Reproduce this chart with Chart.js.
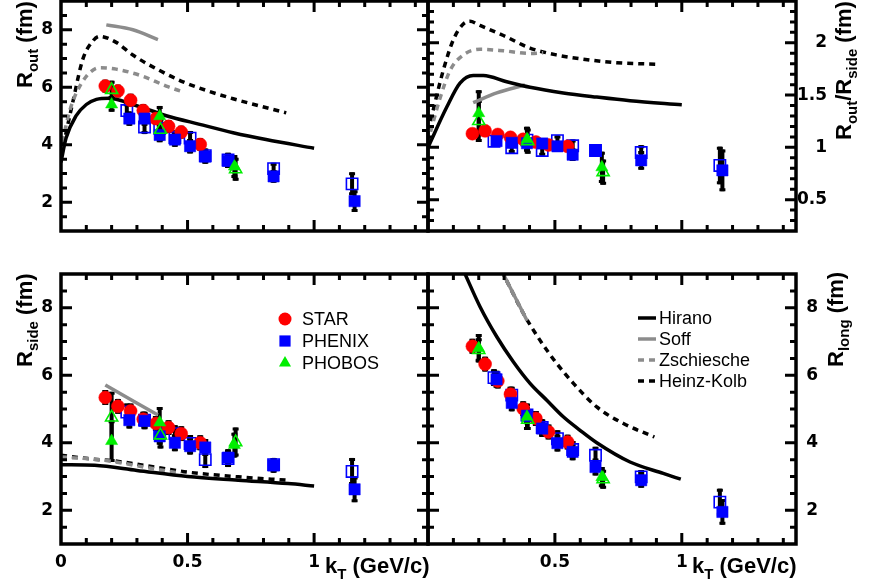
<!DOCTYPE html>
<html>
<head>
<meta charset="utf-8">
<script src="https://cdn.jsdelivr.net/npm/chart.js@4.4.0/dist/chart.umd.min.js"></script>
<style>
  html, body { margin: 0; padding: 0; background: #fff; }
  #wrap { position: relative; width: 875px; height: 586px; background: #fff; }
  #wrap canvas { position: absolute; left: 0; top: 0; }
</style>
</head>
<body>
<div id="wrap">
  <canvas id="cOut" width="875" height="586"></canvas>
  <canvas id="cRatio" width="875" height="586"></canvas>
  <canvas id="cSide" width="875" height="586"></canvas>
  <canvas id="cLong" width="875" height="586"></canvas>
</div>
<script>
// kT bins (GeV/c)
const starK = [0.175, 0.225, 0.275, 0.325, 0.375, 0.425, 0.475, 0.55];
const phenixK = [0.27, 0.33, 0.39, 0.45, 0.51, 0.57, 0.66, 0.84, 1.16];
const phenixOpenK = [0.26, 0.33, 0.39, 0.45, 0.51, 0.57, 0.66, 0.84, 1.15];
const phobosK = [0.2, 0.39, 0.685];
const phobosOpenK = [0.2, 0.393, 0.69];

// tick labels
const xTickVals = [0, 0.5, 1];
const xTickValsRight = [0.5, 1];
const rTickVals = [2, 4, 6, 8];
const ratioTickVals = [0.5, 1, 1.5, 2];

// shared error sizes for the radii panels
const starErr = [0.22, 0.22, 0.22, 0.22, 0.22, 0.22, 0.22, 0.22];
const phenixErr = [0.25, 0.25, 0.25, 0.25, 0.25, 0.25, 0.25, 0.22, 0.38];
const phenixOpenErr = [0.25, 0.25, 0.25, 0.25, 0.25, 0.25, 0.25, 0.2, 0.4];

// R_out
const starOut = [6.04, 5.87, 5.55, 5.19, 4.91, 4.64, 4.44, 4.01];
const phenixOut = [4.91, 4.91, 4.34, 4.18, 3.95, 3.59, 3.44, 2.90, 2.04];
const phenixOpenOut = [5.19, 4.62, 4.57, 4.25, 4.23, 3.62, 3.47, 3.17, 2.64];
const phobosOut = [5.40, 4.99, 3.24];
const phobosOpenOut = [5.91, 4.52, 3.15];
const phobosOutErr = [0.25, 0.36, 0.4];
const phobosOpenOutErr = [0.32, 0.39, 0.4];

const hiranoOutK = [0, 0.02, 0.06, 0.10, 0.14, 0.19, 0.284, 0.416, 0.548, 0.68, 0.81, 1.0];
const hiranoOut = [3.39, 4.23, 5.01, 5.40, 5.58, 5.62, 5.40, 5.01, 4.71, 4.42, 4.18, 3.88];
const soffOutK = [0.179, 0.284, 0.383];
const soffOut = [8.17, 8.0, 7.66];
const zschOutK = [0.005, 0.035, 0.06, 0.10, 0.152, 0.218, 0.324, 0.416, 0.482];
const zschOut = [4.1, 5.2, 5.79, 6.38, 6.68, 6.63, 6.38, 6.04, 5.84];
const hkOutK = [0, 0.047, 0.086, 0.126, 0.152, 0.218, 0.284, 0.39, 0.482, 0.574, 0.68, 0.785, 0.89];
const hkOut = [3.6, 5.5, 6.97, 7.61, 7.77, 7.56, 7.12, 6.58, 6.19, 5.89, 5.60, 5.35, 5.11];

// R_out / R_side
const starRatio = [1.131, 1.158, 1.123, 1.096, 1.077, 1.051, 1.023, 1.01];
const phenixRatio = [1.06, 1.043, 1.04, 1.037, 1.01, 0.93, 0.97, 0.876, 0.78];
const phenixOpenRatio = [1.059, 0.997, 1.069, 0.97, 1.064, 1.015, 0.97, 0.951, 0.827];
const phobosRatio = [1.327, 1.077, 0.809];
const phobosOpenRatio = [1.252, 1.06, 0.763];
const starRatioErr = [0.04, 0.04, 0.04, 0.04, 0.04, 0.04, 0.04, 0.04];
const phenixRatioErr = [0.05, 0.05, 0.05, 0.05, 0.05, 0.06, 0.05, 0.09, 0.2];
const phenixOpenRatioErr = [0.05, 0.05, 0.05, 0.05, 0.05, 0.06, 0.05, 0.07, 0.18];
const phobosRatioErr = [0.22, 0.12, 0.15];
const phobosOpenRatioErr = [0.2, 0.12, 0.12];

const hiranoRatioK = [0, 0.074, 0.126, 0.178, 0.218, 0.31, 0.402, 0.533, 0.665, 0.796, 1.0];
const hiranoRatio = [1.0, 1.386, 1.615, 1.688, 1.688, 1.628, 1.575, 1.521, 1.481, 1.446, 1.408];
const soffRatioK = [0.178, 0.271, 0.382];
const soffRatio = [1.427, 1.521, 1.596];
const zschRatioK = [0.01, 0.047, 0.087, 0.139, 0.205, 0.297, 0.402, 0.454];
const zschRatio = [1.15, 1.467, 1.736, 1.884, 1.938, 1.924, 1.898, 1.906];
const hkRatioK = [0, 0.06, 0.10, 0.139, 0.165, 0.205, 0.297, 0.402, 0.507, 0.612, 0.743, 0.898];
const hkRatio = [1.15, 1.736, 2.03, 2.18, 2.206, 2.166, 2.07, 1.95, 1.884, 1.844, 1.81, 1.795];

// R_side
const starSide = [5.34, 5.08, 4.94, 4.70, 4.57, 4.45, 4.27, 4.0];
const phenixSide = [4.67, 4.65, 4.19, 4.0, 3.90, 3.86, 3.56, 3.33, 2.62];
const phenixOpenSide = [4.91, 4.67, 4.27, 4.27, 3.98, 3.50, 3.53, 3.35, 3.15];
const phobosSide = [4.05, 4.60, 3.93];
const phobosOpenSide = [4.75, 4.22, 4.02];
const phobosSideErr = [0.62, 0.46, 0.37];
const phobosOpenSideErr = [0.76, 0.39, 0.43];

const hiranoSideK = [0, 0.133, 0.30, 0.50, 0.70, 0.897, 1.0];
const hiranoSide = [3.35, 3.33, 3.18, 3.0, 2.89, 2.79, 2.72];
const soffSideK = [0.175, 0.383];
const soffSide = [5.71, 4.82];
const zschSideK = [0, 0.172, 0.343, 0.475];
const zschSide = [3.58, 3.48, 3.26, 3.09];
const hkSideK = [0, 0.106, 0.212, 0.37, 0.50, 0.70, 0.897];
const hkSide = [3.63, 3.53, 3.46, 3.28, 3.13, 2.99, 2.89];

// R_long
const starLong = [6.86, 6.33, 5.83, 5.44, 5.01, 4.72, 4.32, 4.02];
const phenixLong = [5.88, 5.18, 4.8, 4.42, 3.99, 3.73, 3.28, 2.89, 1.95];
const phenixOpenLong = [5.93, 5.41, 4.82, 4.45, 4.12, 3.8, 3.63, 2.99, 2.24];
const phobosLong = [6.80, 4.77, 2.98];
const phobosOpenLong = [6.75, 4.68, 2.92];
const phobosLongErr = [0.42, 0.39, 0.3];
const phobosOpenLongErr = [0.35, 0.3, 0.28];

const hiranoLongK = [0.14, 0.205, 0.271, 0.336, 0.402, 0.468, 0.533, 0.599, 0.665, 0.796, 0.927, 0.996];
const hiranoLong = [9.1, 8.03, 7.14, 6.40, 5.76, 5.26, 4.77, 4.37, 4.0, 3.43, 3.09, 2.92];
const soffLongK = [0.29, 0.39];
const soffLong = [9.1, 7.62];
const zschLongK = [0.29, 0.39];
const zschLong = [9.1, 7.62];
const hkLongK = [0.29, 0.376, 0.441, 0.507, 0.573, 0.665, 0.77, 0.892];
const hkLong = [9.1, 7.83, 7.04, 6.35, 5.76, 5.06, 4.57, 4.17];

const RED = '#ff0000', BLUE = '#0000ff', GREEN = '#00ee00', GREY = '#8c8c8c';

const pts = (xs, ys) => xs.map((x, i) => ({ x: x, y: ys[i] }));

const marker = (label, xs, ys, errs, style, color, open) => ({
    label: label,
    data: pts(xs, ys),
    errs: errs,
    showLine: false,
    pointStyle: style,
    pointRadius: style === 'rect' ? 8 : (style === 'circle' ? 6.5 : 7),
    pointBackgroundColor: open ? 'rgba(0,0,0,0)' : color,
    pointBorderColor: color,
    pointBorderWidth: open ? 1.6 : 0.5
});

const curve = (label, xs, ys, color, dash) => ({
    label: label,
    data: pts(xs, ys),
    showLine: true,
    pointRadius: 0,
    borderColor: color,
    borderWidth: 3.5,
    borderDash: dash ? [6, 5] : [],
    cubicInterpolationMode: 'monotone',
    fill: false
});

const pointSets = (v) => [
    marker('PHOBOS open', phobosOpenK, v.phobosOpen, v.phobosOpenErr, 'triangle', GREEN, true),
    marker('PHOBOS', phobosK, v.phobos, v.phobosErr, 'triangle', GREEN, false),
    marker('PHENIX', phenixK, v.phenix, v.phenixErr, 'rect', BLUE, false),
    marker('STAR', starK, v.star, v.starErr, 'circle', RED, false),
    marker('PHENIX open', phenixOpenK, v.phenixOpen, v.phenixOpenErr, 'rect', BLUE, true)
];

const curveSets = (c) => [
    curve('Hirano', c.hiranoK, c.hirano, '#000', false),
    curve('Soff', c.soffK, c.soff, GREY, false),
    curve('Zschiesche', c.zschK, c.zsch, GREY, true),
    curve('Heinz-Kolb', c.hkK, c.hk, '#000', true)
];

// rotated / subscripted axis titles
function drawParts(ctx, parts, x, y, rotate) {
    ctx.save();
    ctx.translate(x, y);
    if (rotate) ctx.rotate(-Math.PI / 2);
    ctx.fillStyle = '#000';
    ctx.textBaseline = 'alphabetic';
    ctx.textAlign = 'left';
    let pos = 0;
    parts.forEach((p) => {
        ctx.font = p.sub ? 'bold 15px "Liberation Sans"' : 'bold 22px "Liberation Sans"';
        ctx.fillText(p.t, pos, p.sub ? 6 : 0);
        pos += ctx.measureText(p.t).width;
    });
    ctx.restore();
}

function drawSymbol(ctx, style, x, y) {
    ctx.beginPath();
    if (style === 'circle') {
        ctx.fillStyle = RED;
        ctx.arc(x, y, 6.5, 0, Math.PI * 2);
    } else if (style === 'rect') {
        ctx.fillStyle = BLUE;
        ctx.rect(x - 5.6, y - 5.6, 11.2, 11.2);
    } else {
        ctx.fillStyle = GREEN;
        ctx.moveTo(x, y - 7);
        ctx.lineTo(x + 6.06, y + 3.5);
        ctx.lineTo(x - 6.06, y + 3.5);
        ctx.closePath();
    }
    ctx.fill();
}

function makeFrame(p) {
    return {
        id: 'frame' + p.id,
        beforeDatasetsDraw(chart) {
            const ctx = chart.ctx, ys = chart.scales.y, a = chart.chartArea;
            ctx.save();
            ctx.beginPath();
            ctx.rect(a.left, a.top, a.right - a.left, a.bottom - a.top);
            ctx.clip();
            ctx.strokeStyle = '#000';
            chart.data.datasets.forEach((ds, i) => {
                if (!ds.errs) return;
                chart.getDatasetMeta(i).data.forEach((pt, j) => {
                    const v = ds.data[j].y, e = ds.errs[j];
                    const y1 = ys.getPixelForValue(v + e), y2 = ys.getPixelForValue(v - e);
                    ctx.lineWidth = 4;
                    ctx.beginPath();
                    ctx.moveTo(pt.x, y1);
                    ctx.lineTo(pt.x, y2);
                    ctx.stroke();
                    ctx.lineWidth = 3;
                    ctx.beginPath();
                    ctx.moveTo(pt.x - 3, y1 + 1.5);
                    ctx.lineTo(pt.x + 3, y1 + 1.5);
                    ctx.moveTo(pt.x - 3, y2 - 1.5);
                    ctx.lineTo(pt.x + 3, y2 - 1.5);
                    ctx.stroke();
                });
            });
            ctx.restore();
        },
        afterDraw(chart) {
            const ctx = chart.ctx, a = chart.chartArea;
            const xs = chart.scales.x, ys = chart.scales.y;
            ctx.save();
            ctx.strokeStyle = '#000';
            ctx.lineWidth = 3;
            // x ticks, top and bottom, pointing inwards
            for (let k = 1; k < 15; k++) {
                const px = xs.getPixelForValue(k / 10);
                const len = k % 5 === 0 ? 11 : 6;
                ctx.beginPath();
                ctx.moveTo(px, a.bottom); ctx.lineTo(px, a.bottom - len);
                ctx.moveTo(px, a.top); ctx.lineTo(px, a.top + len);
                ctx.stroke();
            }
            // y ticks, left and right
            const n = Math.round((p.yMax - p.yMin) / p.yMinor);
            for (let k = 1; k < n; k++) {
                const v = p.yMin + k * p.yMinor;
                const r = v / p.yMajor;
                const len = Math.abs(r - Math.round(r)) < 1e-6 ? 11 : 6;
                const py = ys.getPixelForValue(v);
                ctx.beginPath();
                ctx.moveTo(a.left, py); ctx.lineTo(a.left + len, py);
                ctx.moveTo(a.right, py); ctx.lineTo(a.right - len, py);
                ctx.stroke();
            }
            ctx.lineWidth = 3.5;
            ctx.strokeRect(a.left, a.top, a.right - a.left, a.bottom - a.top);
            ctx.restore();

            drawParts(ctx, p.title, p.titleX, p.titleY, true);
            if (p.showX) {
                drawParts(ctx, [{ t: 'k' }, { t: 'T', sub: true }, { t: ' (GeV/c)' }], p.kX, 573, false);
            }

            ctx.save();
            ctx.font = '18px "Liberation Sans"';
            ctx.textBaseline = 'middle';
            ctx.fillStyle = '#000';
            if (p.pointLegend) {
                p.pointLegend.forEach((it) => {
                    drawSymbol(ctx, it.style, 285, it.y);
                    ctx.fillStyle = '#000';
                    ctx.fillText(it.label, 302, it.y + 1);
                });
            }
            if (p.lineLegend) {
                p.lineLegend.forEach((it) => {
                    ctx.strokeStyle = it.color;
                    ctx.lineWidth = 3.5;
                    ctx.setLineDash(it.dash ? [6, 5] : []);
                    ctx.beginPath();
                    ctx.moveTo(638, it.y);
                    ctx.lineTo(656, it.y);
                    ctx.stroke();
                    ctx.fillText(it.label, 659, it.y + 1);
                });
                ctx.setLineDash([]);
            }
            ctx.restore();
        }
    };
}

function makeChart(p) {
    const tickFont = { family: 'DejaVu Sans', weight: 'bold', size: 17 };
    new Chart(document.getElementById(p.canvas), {
        type: 'line',
        data: { datasets: pointSets(p.values).concat(curveSets(p.curves)) },
        options: {
            responsive: false,
            animation: false,
            devicePixelRatio: 1,
            layout: { padding: p.pad, autoPadding: false },
            plugins: { legend: { display: false }, tooltip: { enabled: false } },
            scales: {
                x: {
                    type: 'linear',
                    min: 0,
                    max: 1.45,
                    display: p.showX,
                    afterBuildTicks: (s) => { s.ticks = p.xTicks.map((v) => ({ value: v })); },
                    afterFit: (s) => { s.height = 42; s.paddingLeft = 0; s.paddingRight = 0; },
                    grid: { display: false, drawTicks: false },
                    border: { display: false },
                    ticks: { font: tickFont, color: '#000', padding: 8, maxRotation: 0, autoSkip: false,
                        callback: (v) => String(v) }
                },
                y: {
                    type: 'linear',
                    position: p.side,
                    min: p.yMin,
                    max: p.yMax,
                    afterBuildTicks: (s) => { s.ticks = p.yTicks.map((v) => ({ value: v })); },
                    afterFit: (s) => { s.width = p.yWidth; s.paddingTop = 0; s.paddingBottom = 0; },
                    grid: { display: false, drawTicks: false },
                    border: { display: false },
                    ticks: { font: tickFont, color: '#000', padding: p.yPad, crossAlign: p.cross,
                        callback: (v) => String(v) }
                }
            }
        },
        plugins: [makeFrame(p)]
    });
}

const R_TITLE = (sub) => [{ t: 'R' }, { t: sub, sub: true }, { t: ' (fm)' }];

makeChart({
    id: 'out', canvas: 'cOut', side: 'left', cross: 'near',
    pad: { left: 0, top: 1, right: 447, bottom: 313 },
    yMin: 1, yMax: 9, yMajor: 2, yMinor: 0.5, yTicks: rTickVals, yWidth: 61, yPad: 8,
    showX: false, xTicks: xTickVals,
    title: R_TITLE('out'), titleX: 32, titleY: 88,
    values: { star: starOut, starErr: starErr, phenix: phenixOut, phenixErr: phenixErr,
        phenixOpen: phenixOpenOut, phenixOpenErr: phenixOpenErr,
        phobos: phobosOut, phobosErr: phobosOutErr, phobosOpen: phobosOpenOut, phobosOpenErr: phobosOpenOutErr },
    curves: { hiranoK: hiranoOutK, hirano: hiranoOut, soffK: soffOutK, soff: soffOut,
        zschK: zschOutK, zsch: zschOut, hkK: hkOutK, hk: hkOut }
});

makeChart({
    id: 'ratio', canvas: 'cRatio', side: 'right', cross: 'far',
    pad: { left: 428, top: 1, right: 48, bottom: 313 },
    yMin: 0.2, yMax: 2.4, yMajor: 0.5, yMinor: 0.1, yTicks: ratioTickVals, yWidth: 31, yPad: 1,
    showX: false, xTicks: xTickValsRight,
    title: [{ t: 'R' }, { t: 'out', sub: true }, { t: '/R' }, { t: 'side', sub: true }, { t: ' (fm)' }],
    titleX: 851, titleY: 140,
    values: { star: starRatio, starErr: starRatioErr, phenix: phenixRatio, phenixErr: phenixRatioErr,
        phenixOpen: phenixOpenRatio, phenixOpenErr: phenixOpenRatioErr,
        phobos: phobosRatio, phobosErr: phobosRatioErr, phobosOpen: phobosOpenRatio, phobosOpenErr: phobosOpenRatioErr },
    curves: { hiranoK: hiranoRatioK, hirano: hiranoRatio, soffK: soffRatioK, soff: soffRatio,
        zschK: zschRatioK, zsch: zschRatio, hkK: hkRatioK, hk: hkRatio }
});

makeChart({
    id: 'side', canvas: 'cSide', side: 'left', cross: 'near',
    pad: { left: 0, top: 274, right: 447, bottom: 0 },
    yMin: 1, yMax: 9, yMajor: 2, yMinor: 0.5, yTicks: rTickVals, yWidth: 61, yPad: 8,
    showX: true, xTicks: xTickVals, kX: 325,
    title: R_TITLE('side'), titleX: 32, titleY: 367,
    pointLegend: [
        { label: 'STAR', style: 'circle', y: 319 },
        { label: 'PHENIX', style: 'rect', y: 341 },
        { label: 'PHOBOS', style: 'triangle', y: 363 }
    ],
    values: { star: starSide, starErr: starErr, phenix: phenixSide, phenixErr: phenixErr,
        phenixOpen: phenixOpenSide, phenixOpenErr: phenixOpenErr,
        phobos: phobosSide, phobosErr: phobosSideErr, phobosOpen: phobosOpenSide, phobosOpenErr: phobosOpenSideErr },
    curves: { hiranoK: hiranoSideK, hirano: hiranoSide, soffK: soffSideK, soff: soffSide,
        zschK: zschSideK, zsch: zschSide, hkK: hkSideK, hk: hkSide }
});

makeChart({
    id: 'long', canvas: 'cLong', side: 'right', cross: 'far',
    pad: { left: 428, top: 274, right: 57, bottom: 0 },
    yMin: 1, yMax: 9, yMajor: 2, yMinor: 0.5, yTicks: rTickVals, yWidth: 22, yPad: 10,
    showX: true, xTicks: xTickValsRight, kX: 692,
    title: R_TITLE('long'), titleX: 843, titleY: 367,
    lineLegend: [
        { label: 'Hirano', color: '#000', dash: false, y: 318 },
        { label: 'Soff', color: GREY, dash: false, y: 339 },
        { label: 'Zschiesche', color: GREY, dash: true, y: 360 },
        { label: 'Heinz-Kolb', color: '#000', dash: true, y: 381 }
    ],
    values: { star: starLong, starErr: starErr, phenix: phenixLong, phenixErr: phenixErr,
        phenixOpen: phenixOpenLong, phenixOpenErr: phenixOpenErr,
        phobos: phobosLong, phobosErr: phobosLongErr, phobosOpen: phobosOpenLong, phobosOpenErr: phobosOpenLongErr },
    curves: { hiranoK: hiranoLongK, hirano: hiranoLong, soffK: soffLongK, soff: soffLong,
        zschK: zschLongK, zsch: zschLong, hkK: hkLongK, hk: hkLong }
});
</script>
</body>
</html>
